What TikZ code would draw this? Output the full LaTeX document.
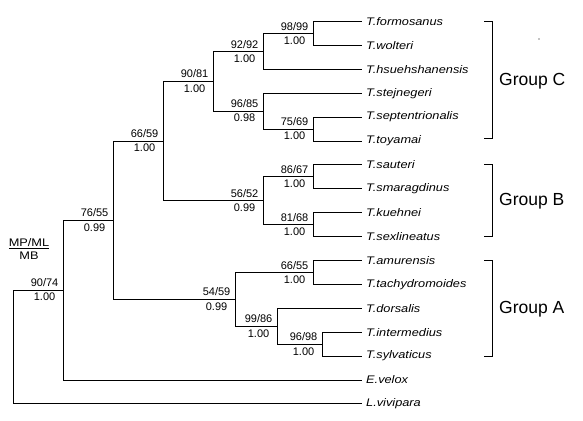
\documentclass[tikz,border=0pt]{standalone}
\usepackage{fontspec}
\setmainfont{Liberation Sans}
\newfontfamily\taxonfont[FakeStretch=1.16]{Liberation Sans}
\usepackage{tikz}
\usetikzlibrary{positioning}

\begin{document}
\begin{tikzpicture}[x=1pt,y=-1pt,
      branch/.style={draw=black,line width=0.9pt},
      taxon/.style={anchor=west,inner xsep=4pt,inner ysep=0pt,
                    font=\taxonfont\itshape\fontsize{11}{13}\selectfont},
      bs/.style={inner sep=1.5pt,font=\fontsize{11}{13}\selectfont},
      group/.style={anchor=west,inner sep=0pt,font=\fontsize{17.5}{20}\selectfont},
      brace/.style={draw=black,line width=0.9pt}
    ]
      \useasboundingbox[fill=white] (0,0) rectangle (583,420);
      % Taxa
      \foreach \name/\txt [count=\i from 0] in {formosanus/T.formosanus,
          wolteri/T.wolteri, hsuehshanensis/T.hsuehshanensis,
          stejnegeri/T.stejnegeri, septentrionalis/T.septentrionalis,
          toyamai/T.toyamai, sauteri/T.sauteri, smaragdinus/T.smaragdinus,
          kuehnei/T.kuehnei, sexlineatus/T.sexlineatus, amurensis/T.amurensis,
          tachydromoides/T.tachydromoides, dorsalis/T.dorsalis,
          intermedius/T.intermedius, sylvaticus/T.sylvaticus,
          velox/E.velox, vivipara/L.vivipara}
        \node[taxon] (\name) at (362,{21.5+23.9*\i}) {\txt};
      % Internal nodes
      \coordinate (n9899) at (313,33.45);
      \coordinate (n9292) at (263,51.4);
      \coordinate (n7569) at (313,129.05);
      \coordinate (n9685) at (263,111.1);
      \coordinate (n9081) at (213,81.25);
      \coordinate (n8667) at (313,176.85);
      \coordinate (n8168) at (313,224.65);
      \coordinate (n5652) at (263,200.75);
      \coordinate (n6659) at (163,141);
      \coordinate (n6655) at (313,272.45);
      \coordinate (n9698) at (322,344.15);
      \coordinate (n9986) at (277,326.2);
      \coordinate (n5459) at (235,299.3);
      \coordinate (n7655) at (113,220.15);
      \coordinate (n9074) at (63,290);
      \coordinate (root)  at (13,290);
      % Branches
      \foreach \p/\c in {n9899/formosanus.west, n9899/wolteri.west,
          n9292/n9899, n9292/hsuehshanensis.west,
          n7569/septentrionalis.west, n7569/toyamai.west,
          n9685/stejnegeri.west, n9685/n7569, n9081/n9292, n9081/n9685,
          n8667/sauteri.west, n8667/smaragdinus.west,
          n8168/kuehnei.west, n8168/sexlineatus.west,
          n5652/n8667, n5652/n8168, n6659/n9081, n6659/n5652,
          n6655/amurensis.west, n6655/tachydromoides.west,
          n9698/intermedius.west, n9698/sylvaticus.west,
          n9986/dorsalis.west, n9986/n9698, n5459/n6655, n5459/n9986,
          n7655/n6659, n7655/n5459, n9074/n7655, n9074/velox.west,
          root/n9074, root/vivipara.west}
        \draw[branch] (\p) |- (\c);
      % Support values
      \foreach \n/\a/\b/\lo in {n9899/98/99/1.00, n9292/92/92/1.00,
          n7569/75/69/1.00, n9685/96/85/0.98, n9081/90/81/1.00,
          n8667/86/67/1.00, n8168/81/68/1.00, n5652/56/52/0.99,
          n6659/66/59/1.00, n6655/66/55/1.00, n9698/96/98/1.00,
          n9986/99/86/1.00, n5459/54/59/0.99, n7655/76/55/0.99,
          n9074/90/74/1.00}
      {
        \node[bs,above left=1.5pt and 3pt of \n] (u\n) {\a/\b};
        \node[bs,below=3pt of u\n] (l\n) {\lo};
      }
      \node[bs,align=center,font=\taxonfont\fontsize{11}{13}\selectfont] (key) at (29,249)
        {\underline{MP/ML}\\MB};
      % Groups
      \draw[brace] (484,21.5) -| (492,138) -- (484,138);
      \node[group] (groupC) at (499,81) {Group C};
      \draw[brace] (484,164.9) -| (492,236.6) -- (484,236.6);
      \node[group] (groupB) at (499,201.5) {Group B};
      \draw[brace] (484,260.5) -| (492,356.1) -- (484,356.1);
      \node[group] (groupA) at (499,309) {Group A};
      \fill (539,39) circle (0.6);
    \end{tikzpicture}
\end{document}
